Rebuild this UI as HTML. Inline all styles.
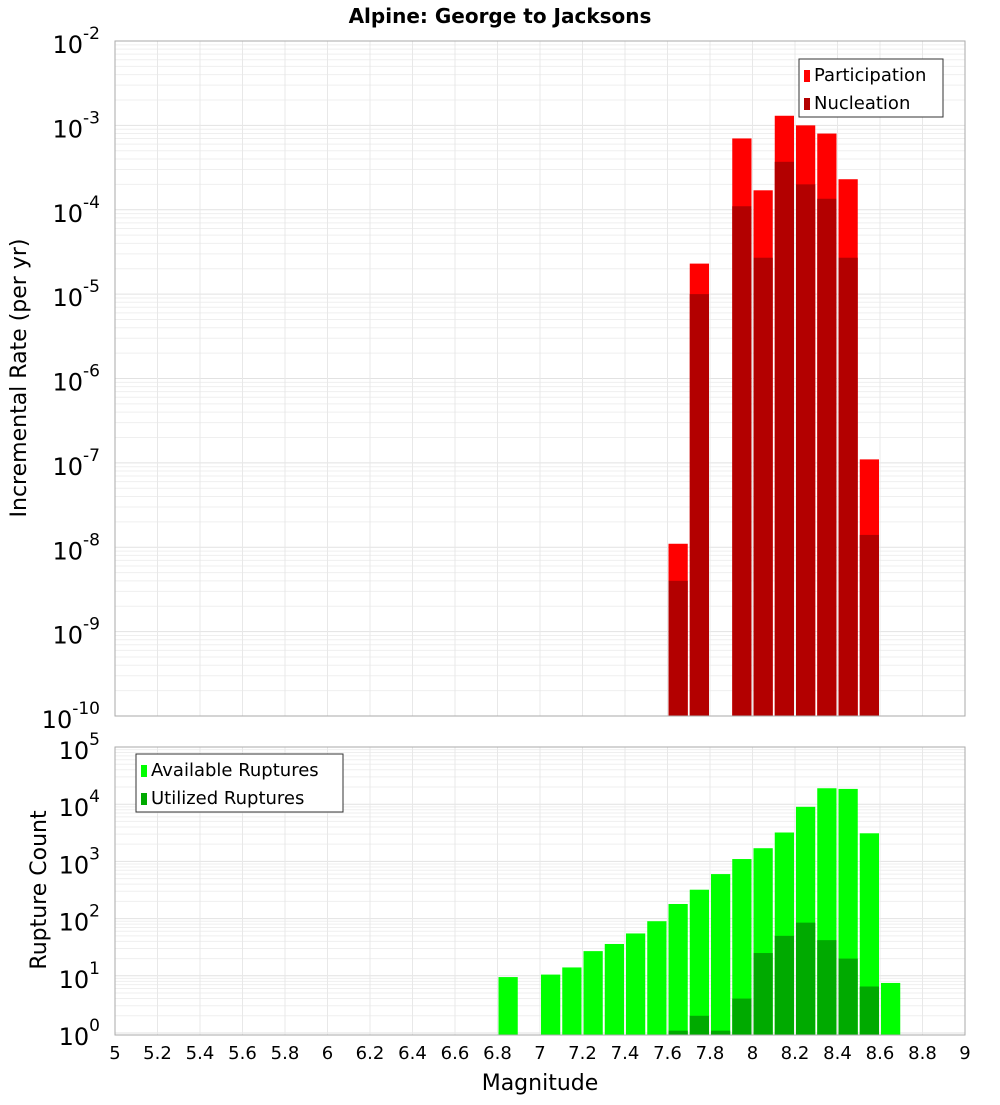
<!DOCTYPE html>
<html><head><meta charset="utf-8"><style>
body{margin:0;background:#fff;font-family:"Liberation Sans","DejaVu Sans",sans-serif}
</style></head><body>
<svg id="chart" width="1000" height="1100" xmlns="http://www.w3.org/2000/svg" font-family="DejaVu Sans, Liberation Sans, sans-serif">
<text x="500" y="23" text-anchor="middle" font-size="20" font-weight="bold">Alpine: George to Jacksons</text>
<g id="top"></g><g id="bot"></g>
<text transform="translate(26,378) rotate(-90)" text-anchor="middle" font-size="22">Incremental Rate (per yr)</text>
<text transform="translate(46,890) rotate(-90)" text-anchor="middle" font-size="22">Rupture Count</text>
<text x="540" y="1090" text-anchor="middle" font-size="22">Magnitude</text>
</svg>
<script>
const binCenters=[7.65,7.75,7.95,8.05,8.15,8.25,8.35,8.45,8.55];
const participation=[1.1e-8,2.3e-5,7e-4,1.7e-4,1.3e-3,1e-3,8e-4,2.3e-4,1.1e-7];
const nucleation=[4e-9,1e-5,1.1e-4,2.7e-5,3.7e-4,2e-4,1.35e-4,2.7e-5,1.4e-8];
const countCenters=[6.85,7.05,7.15,7.25,7.35,7.45,7.55,7.65,7.75,7.85,7.95,8.05,8.15,8.25,8.35,8.45,8.55,8.65];
const available=[9.5,10.5,14,27,36,55,90,180,320,600,1100,1700,3200,9000,19000,18500,3100,7.5];
const utilized=[0,0,0,0,0,0,0,1.1,2,1.1,4,25,50,85,42,20,6.5,0];
const xTicks=[5,5.2,5.4,5.6,5.8,6,6.2,6.4,6.6,6.8,7,7.2,7.4,7.6,7.8,8,8.2,8.4,8.6,8.8,9];
const topExps=[-10,-9,-8,-7,-6,-5,-4,-3,-2];
const botExps=[0,1,2,3,4,5];

const NS="http://www.w3.org/2000/svg";
const X0=115,X1=965;
const xs=m=>X0+(m-5)/4*(X1-X0);
function el(p,t,a){const e=document.createElementNS(NS,t);for(const k in a)e.setAttribute(k,a[k]);p.appendChild(e);return e;}
function panel(g,top,bot,lmin,lmax,exps,name,bmin){
  const ys=v=>bot-(Math.log10(v)-lmin)/(lmax-lmin)*(bot-top);
  const grid=el(g,'g',{});
  
  
  for(let e=Math.floor(lmin);e<lmax;e++)for(let k=1;k<10;k++){const v=k*Math.pow(10,e);const y=ys(v);if(y<top-0.5||y>bot+0.5)continue;
    el(grid,'line',{x1:X0,x2:X1,y1:y,y2:y,stroke:k==1?'#e2e2e2':'#efefef','stroke-width':1});}
  xTicks.forEach(t=>{const x=xs(t);el(grid,'line',{x1:x,x2:x,y1:top,y2:bot,stroke:'#e8e8e8'});});
  exps.forEach(e=>{const y=ys(Math.pow(10,e));const t=el(g,'text',{x:100,y:y+12,'text-anchor':'end','font-size':24});
    
    t.textContent='10';const s=el(t,'tspan',{dy:-14,'font-size':17});s.textContent=String(e);});
  return ys;
}
const topG=document.getElementById('top'),botG=document.getElementById('bot');
const ysT=panel(topG,41,716,-10,-2,topExps,'top');
const bw=21.25;
binCenters.forEach((m,i)=>{
  const x=xs(m)-bw/2+1;
  const r=el(topG,'rect',{x:x,y:ysT(participation[i]),width:bw-2,height:716-ysT(participation[i]),fill:'#ff0000'});
  
  const n=el(topG,'rect',{x:x,y:ysT(nucleation[i]),width:bw-2,height:716-ysT(nucleation[i]),fill:'#b30000'});
  
});
el(topG,'rect',{x:X0,y:41,width:X1-X0,height:675,fill:'none',stroke:'#aaa'});
const ysB=panel(botG,747,1035,-0.035,5,botExps,'bottom');
countCenters.forEach((m,i)=>{
  const x=xs(m)-bw/2+1;
  const a=el(botG,'rect',{x:x,y:ysB(available[i]),width:bw-2,height:1035-ysB(available[i]),fill:'#00ff00'});
  
  if(utilized[i]>0){const u=el(botG,'rect',{x:x,y:ysB(utilized[i]),width:bw-2,height:1035-ysB(utilized[i]),fill:'#00aa00'});
  }
});
el(botG,'rect',{x:X0,y:747,width:X1-X0,height:288,fill:'none',stroke:'#aaa'});
xTicks.forEach(t=>{const tx=el(botG,'text',{x:xs(t),y:1059,'text-anchor':'middle','font-size':18});
  tx.textContent=String(t);});
function legend(g,x,y,w,items,name){
  const L=el(g,'g',{});
  el(L,'rect',{x:x,y:y,width:w,height:58,fill:'#fff',stroke:'#333'});
  items.forEach((it,i)=>{el(L,'rect',{x:x+5,y:y+11+i*28,width:6,height:12,fill:it[1]});
    const t=el(L,'text',{x:x+15,y:y+22+i*28,'font-size':18});t.textContent=it[0];});
}
legend(topG,799,59,144,[['Participation','#ff0000'],['Nucleation','#b30000']],'top-legend');
legend(botG,136,754,207,[['Available Ruptures','#00ff00'],['Utilized Ruptures','#00aa00']],'bottom-legend');
</script>
</body></html>
